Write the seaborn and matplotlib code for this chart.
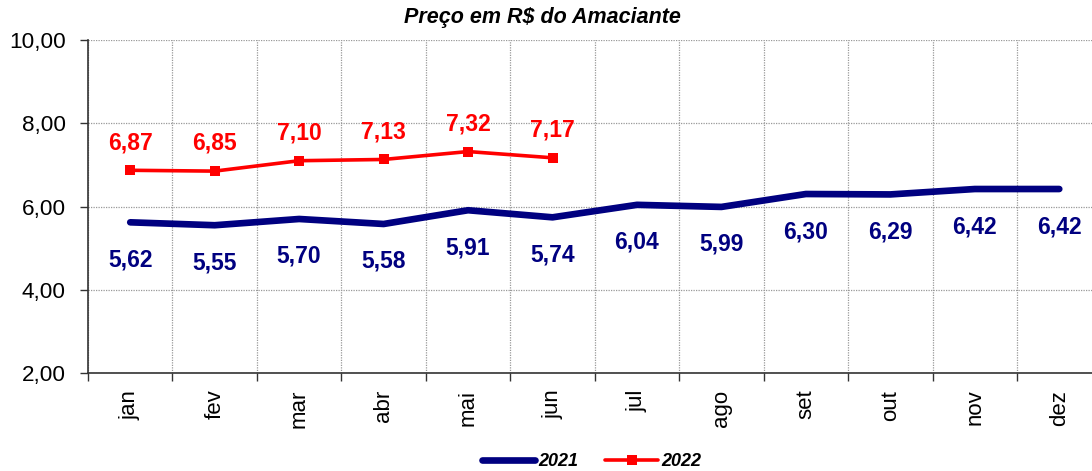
import matplotlib
matplotlib.use("Agg")
import matplotlib.pyplot as plt
from matplotlib.ticker import FixedLocator, NullFormatter
import seaborn as sns
import pandas as pd
import numpy as np

months = ["jan", "fev", "mar", "abr", "mai", "jun", "jul", "ago", "set", "out", "nov", "dez"]
values_2021 = [5.62, 5.55, 5.70, 5.58, 5.91, 5.74, 6.04, 5.99, 6.30, 6.29, 6.42, 6.42]
values_2022 = [6.87, 6.85, 7.10, 7.13, 7.32, 7.17]
y_ticks = [2, 4, 6, 8, 10]
title = "Preço em R$ do Amaciante"

sns.set_theme(style="white")
plt.rcParams["font.family"] = ["Liberation Sans", "DejaVu Sans"]
plt.rcParams["text.color"] = "black"
plt.rcParams["xtick.labelcolor"] = "black"
plt.rcParams["ytick.labelcolor"] = "black"

NAVY = "#000080"
RED = "#FF0000"

df21 = pd.DataFrame({"pos": np.arange(len(values_2021)), "valor": values_2021})
df22 = pd.DataFrame({"pos": np.arange(len(values_2022)), "valor": values_2022})

fig = plt.figure(figsize=(10.92, 4.71), dpi=100)
ax = fig.add_axes([88 / 1092, 1 - 373 / 471, (1101.5 - 88) / 1092, (373 - 40) / 471])

sns.lineplot(data=df21, x="pos", y="valor", ax=ax, color=NAVY, linewidth=4.8,
             solid_capstyle="round", label="2021", sort=False)
sns.lineplot(data=df22, x="pos", y="valor", ax=ax, color=RED, linewidth=2.6,
             marker="s", markersize=7, markeredgewidth=0, label="2022", sort=False)

for i, v in enumerate(values_2021):
    ax.annotate(f"{v:.2f}".replace(".", ","), (i, v), xytext=(0, -27),
                textcoords="offset points", ha="center", va="center",
                fontsize=16.5, fontweight="bold", color=NAVY)
for i, v in enumerate(values_2022):
    ax.annotate(f"{v:.2f}".replace(".", ","), (i, v), xytext=(0, 20),
                textcoords="offset points", ha="center", va="center",
                fontsize=16.5, fontweight="bold", color=RED)

ax.set_xlim(-0.5, len(months) - 0.5)
ax.set_ylim(2, 10)
ax.set_yticks(y_ticks)
ax.set_yticklabels([f"{t:.2f}".replace(".", ",") for t in y_ticks], fontsize=16.2)
ax.set_xticks(np.arange(len(months)))
ax.set_xticklabels(months, rotation=90, fontsize=16)
ax.xaxis.set_minor_locator(FixedLocator(np.arange(-0.5, len(months), 1.0)))
ax.xaxis.set_minor_formatter(NullFormatter())
ax.tick_params(axis="x", which="major", length=0, pad=12, labelcolor="black")
ax.tick_params(axis="x", which="minor", length=6, width=1, color="#333333", direction="out", bottom=True)
ax.tick_params(axis="y", which="major", length=6, width=1, color="#333333", direction="out", left=True, pad=10, labelcolor="black")
ax.set_xlabel("")
ax.set_ylabel("")

ax.grid(False)
ax.yaxis.grid(True, which="major", linestyle=(0, (1, 1)), color="#999999", linewidth=0.9)
ax.xaxis.grid(True, which="minor", linestyle=(0, (1, 1)), color="#999999", linewidth=0.9)
ax.set_axisbelow(True)
for s in ["top", "right"]:
    ax.spines[s].set_visible(False)
for s in ["left", "bottom"]:
    ax.spines[s].set_color("#333333")
    ax.spines[s].set_linewidth(1.2)

ax.get_legend().remove()
handles, labels = ax.get_legend_handles_labels()
leg = fig.legend(handles, labels, loc="center", bbox_to_anchor=(0.542, 1 - 462 / 471), ncol=2,
                 frameon=False, handlelength=2.9, handletextpad=0.2, columnspacing=1.5,
                 prop={"weight": "bold", "style": "italic", "size": 13})
for t in leg.get_texts():
    t.set_color("black")

fig.text(0.497, 1 - 18 / 471, title, ha="center", va="center", color="black",
         fontsize=15.5, fontweight="bold", fontstyle="italic")

fig.savefig("out.png", dpi=100)
